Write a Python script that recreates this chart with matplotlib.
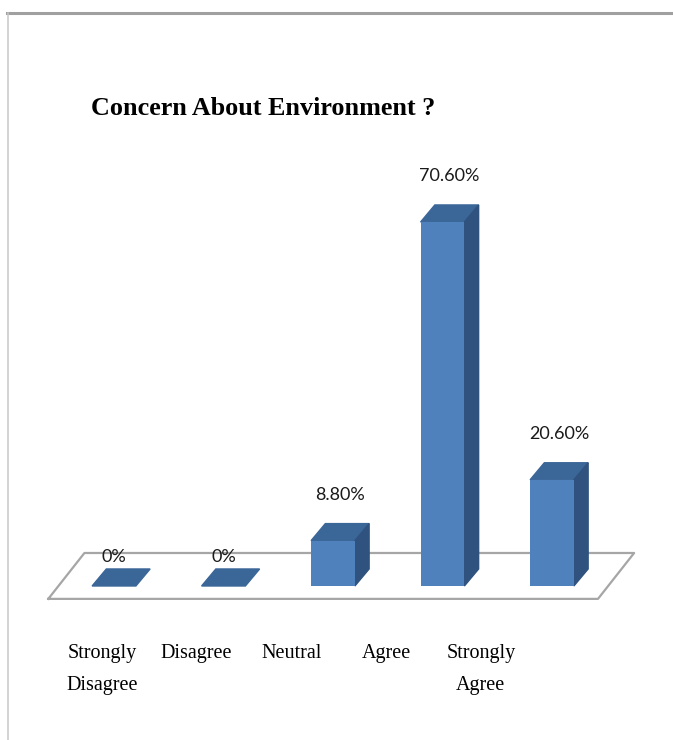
import matplotlib
matplotlib.use("Agg")
import matplotlib.pyplot as plt
from matplotlib.lines import Line2D

# Respuestas de la encuesta
categorias = ["Strongly\nDisagree", "Disagree", "Neutral", "Agree", "Strongly\nAgree"]
porcentajes = [0.0, 0.0, 8.8, 70.6, 20.6]
etiquetas = ["0%", "0%", "8.80%", "70.60%", "20.60%"]

# Colores estilo Excel 3D
FRENTE = "#4F81BD"
LADO = "#30527E"
ARRIBA = "#3B6698"

ANCHO = 0.40      # ancho de la cara frontal
PROF_X = 0.13     # desplazamiento en x de la profundidad
PROF_Y = 3.3      # desplazamiento en y de la profundidad

fig = plt.figure(figsize=(6.73, 7.4), dpi=100)
fig.patch.set_facecolor("white")
ax = fig.add_axes([0, 0, 1, 1])
ax.set_xlim(-1.041, 5.105)
ax.set_ylim(-29.87, 113.65)
ax.axis("off")

# Suelo del grafico (paralelogramo)
suelo_x = [-0.60, 4.42, 4.75, -0.27, -0.60]
suelo_y = [-2.5, -2.5, 6.4, 6.4, -2.5]
ax.fill(suelo_x, suelo_y, color="white", zorder=1)
ax.plot(suelo_x, suelo_y, color="#a6a6a6", lw=1.6, zorder=2)

for i, (v, txt) in enumerate(zip(porcentajes, etiquetas)):
    x0 = i - ANCHO / 2
    x1 = i + ANCHO / 2
    # cara superior
    ax.fill([x0, x1, x1 + PROF_X, x0 + PROF_X], [v, v, v + PROF_Y, v + PROF_Y],
            color=ARRIBA, zorder=3 + i)
    if v > 0:
        # cara lateral
        ax.fill([x1, x1 + PROF_X, x1 + PROF_X, x1], [0, PROF_Y, v + PROF_Y, v],
                color=LADO, zorder=3 + i)
        # cara frontal
        ax.bar(i, v, width=ANCHO, bottom=0, color=FRENTE, zorder=3 + i)
    desp = 33 if v > 0 else 21
    ax.annotate(txt, (i + (PROF_X / 2 if v > 0 else 0), v), xytext=(0, desp),
                textcoords="offset points", ha="center", va="center",
                fontsize=13, family="Lato", color="#1a1a1a", zorder=10)

# Etiquetas de categorias (perspectiva: mas juntas que las barras)
for i, cat in enumerate(categorias):
    ax.text(-0.11 + 0.865 * i, -11.2, cat, ha="center", va="top",
            fontsize=14.5, family="Liberation Serif", linespacing=1.95,
            color="black")

fig.text(0.3915, 0.853, "Concern About Environment ?", ha="center", va="center",
         fontsize=18.8, family="Liberation Serif", fontweight="bold")

# Bordes del marco
fig.add_artist(Line2D([7 / 673, 1], [1 - 12.5 / 740] * 2, color="#a0a0a0", lw=2.2))
fig.add_artist(Line2D([8 / 673] * 2, [0, 1 - 12.5 / 740], color="#c8c8c8", lw=1.1))

fig.savefig("out.png", dpi=100)
